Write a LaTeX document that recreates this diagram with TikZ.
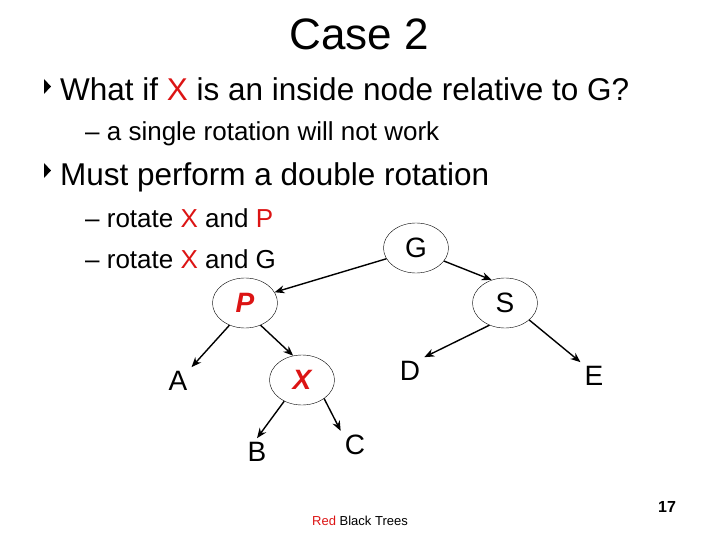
\documentclass[tikz,border=0pt]{standalone}
\usepackage{fontspec}
\setmainfont{Liberation Sans}
\usetikzlibrary{shapes.geometric,arrows.meta}
\definecolor{myred}{RGB}{220,20,20}
\tikzset{
 tn/.style={ellipse,draw,thin,minimum width=65pt,minimum height=50pt,inner sep=0pt,font=\fontsize{28}{28}\selectfont},
 leaf/.style={inner sep=4pt,font=\fontsize{28}{28}\selectfont},
 arr/.style={-{Stealth[length=10pt,width=8pt]},line width=1.4pt},
 bul/.style={fill=black},
 txt/.style={anchor=base west,inner sep=0pt}
}
\begin{document}
\begin{tikzpicture}[x=1pt,y=-1pt]
\useasboundingbox (0,0) rectangle (720,540);
\node[inner sep=0pt] (title) at (359,34) {\fontsize{44}{44}\selectfont Case 2};
\node[txt] (l1) at (60,101) {\fontsize{31.5}{31.5}\selectfont What if \textcolor{myred}{X} is an inside node relative to G?};
\node[txt] (l2) at (85,141) {\fontsize{26}{26}\selectfont -- a single rotation will not work};
\node[txt] (l3) at (60,186) {\fontsize{31.5}{31.5}\selectfont Must perform a double rotation};
\node[txt] (l4) at (85,227) {\fontsize{26}{26}\selectfont -- rotate \textcolor{myred}{X} and \textcolor{myred}{P}};
\node[txt] (l5) at (85,268) {\fontsize{26}{26}\selectfont -- rotate \textcolor{myred}{X} and G};
\fill[bul] (44,79) -- (51,86.5) -- (44,94) -- cycle;
\fill[bul] (44,163) -- (51,170.5) -- (44,178) -- cycle;
\node[tn] (G) at (416,248) {G};
\node[tn] (P) at (245,303) {\textcolor{myred}{\bfseries\itshape P}};
\node[tn] (S) at (505,303) {S};
\node[tn] (X) at (302,380) {\textcolor{myred}{\bfseries\itshape X}};
\node[leaf] (A) at (178,381) {A};
\node[leaf] (D) at (410,371) {D};
\node[leaf] (E) at (594,376) {E};
\node[leaf] (B) at (257,452) {B};
\node[leaf] (C) at (355,445) {C};
\draw[arr] (G.200) -- (P.20);
\draw[arr] (G.-25) -- (S.120);
\draw[arr] (P.235) -- (A.north east);
\draw[arr] (P.-55) -- (X.110);
\draw[arr] (S.235) -- (D.north east);
\draw[arr] (S.-35) -- (E.north west);
\draw[arr] (X.230) -- (B.north);
\draw[arr] (X.-40) -- (C.north west);
\node[inner sep=0pt] (foot) at (360,521) {\fontsize{13}{13}\selectfont\textcolor{myred}{Red} Black Trees};
\node[inner sep=0pt] (num) at (667,507) {\fontsize{16}{16}\selectfont\bfseries 17};
\end{tikzpicture}
\end{document}
